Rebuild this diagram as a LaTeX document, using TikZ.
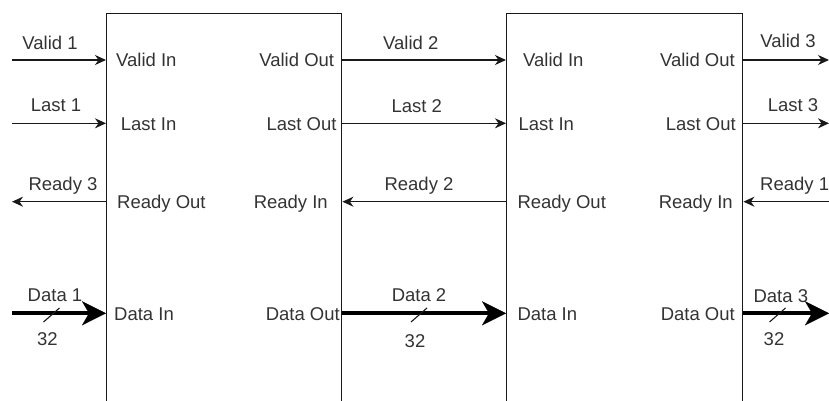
\documentclass[tikz,border=0pt]{standalone}
\usepackage{fontspec}
\setmainfont{Liberation Sans}
\usetikzlibrary{arrows.meta}
\tikzset{
  etapa/.style={draw=black!90, line width=1.4pt, minimum height=410pt, inner sep=0pt},
  senal/.style={draw=black!90, line width=1.3pt, -{Stealth[length=11pt,width=10pt,inset=3.5pt]}},
  bus/.style={draw=black, line width=4.2pt, -{Stealth[length=24pt,width=24pt,inset=7pt,line width=0.1pt]}},
  puerto/.style={inner sep=0pt, text=black!80},
  etiq/.style={inner sep=0pt, anchor=base, text=black!80},
  barra/.style={draw=black!90, line width=1.1pt},
}
\begin{document}
\begin{tikzpicture}[x=1pt,y=-1pt,font=\fontsize{18.5pt}{22pt}\selectfont]
\useasboundingbox (0,0) rectangle (829,401);
\clip (0,0) rectangle (829,401);
% etapas
\node[etapa, minimum width=235pt] (etapa1) at (224.2,218.3) {};
\node[etapa, minimum width=236pt] (etapa2) at (624.7,218.3) {};
% extremos libres
\coordinate (iv) at (12,60);
\coordinate (il) at (12,123.3);
\coordinate (ir) at (12,201.7);
\coordinate (id) at (12,313.3);
\coordinate (ov) at (829,60);
\coordinate (ol) at (829,123.3);
\coordinate (or) at (829,201.7);
\coordinate (od) at (829,313.3);
% entrada
\draw[senal] (iv) -- (iv -| etapa1.west);
\draw[senal] (il) -- (il -| etapa1.west);
\draw[senal] (ir -| etapa1.west) -- (ir);
\draw[bus] (id) -- (id -| etapa1.west);
% entre etapas
\draw[senal] (iv -| etapa1.east) -- (iv -| etapa2.west);
\draw[senal] (il -| etapa1.east) -- (il -| etapa2.west);
\draw[senal] (ir -| etapa2.west) -- (ir -| etapa1.east);
\draw[bus] (id -| etapa1.east) -- (id -| etapa2.west);
% salida
\draw[senal] (iv -| etapa2.east) -- (ov);
\draw[senal] (il -| etapa2.east) -- (ol);
\draw[senal] (or) -- (or -| etapa2.east);
\draw[bus] (id -| etapa2.east) -- (od);
% ancho del bus
\foreach \x in {51.5,419,777.5}
  \draw[barra] (\x-8,322) -- (\x+8,308);
% nombres de las senales
\node[etiq] (valid1) at (50,50) {Valid 1};
\node[etiq] (last1) at (56,111.7) {Last 1};
\node[etiq] (ready3) at (63,190.5) {Ready 3};
\node[etiq] (data1) at (55,301.7) {Data 1};
\node[etiq] (ancho1) at (47.5,345) {32};
\node[etiq] (valid2) at (410.8,50) {Valid 2};
\node[etiq] (last2) at (416.7,113) {Last 2};
\node[etiq] (ready2) at (419,190.5) {Ready 2};
\node[etiq] (data2) at (419,301.5) {Data 2};
\node[etiq] (ancho2) at (415,347) {32};
\node[etiq] (valid3) at (788,48) {Valid 3};
\node[etiq] (last3) at (793,112) {Last 3};
\node[etiq, anchor=base west] (ready1) at (760,190) {Ready 1};
\node[etiq] (data3) at (780.8,302) {Data 3};
\node[etiq] (ancho3) at (774,345) {32};
% puertos de la etapa 1
\node[puerto, anchor=base west] (e1vin) at (116,66.7) {Valid In};
\node[puerto, anchor=base west] (e1lin) at (120.7,130) {Last In};
\node[puerto, anchor=base west] (e1rout) at (117,208.4) {Ready Out};
\node[puerto, anchor=base west] (e1din) at (114,320) {Data In};
\node[puerto, anchor=base east] (e1vout) at (334.3,66.7) {Valid Out};
\node[puerto, anchor=base east] (e1lout) at (336.7,130) {Last Out};
\node[puerto, anchor=base east] (e1rin) at (328,208.4) {Ready In};
\node[puerto, anchor=base east] (e1dout) at (340,320) {Data Out};
% puertos de la etapa 2
\node[puerto, anchor=base west] (e2vin) at (523,66.7) {Valid In};
\node[puerto, anchor=base west] (e2lin) at (518.3,130) {Last In};
\node[puerto, anchor=base west] (e2rout) at (517.3,208.4) {Ready Out};
\node[puerto, anchor=base west] (e2din) at (517.3,320) {Data In};
\node[puerto, anchor=base east] (e2vout) at (735,66.7) {Valid Out};
\node[puerto, anchor=base east] (e2lout) at (736,130) {Last Out};
\node[puerto, anchor=base east] (e2rin) at (733,208.4) {Ready In};
\node[puerto, anchor=base east] (e2dout) at (735,320) {Data Out};
\end{tikzpicture}
\end{document}
